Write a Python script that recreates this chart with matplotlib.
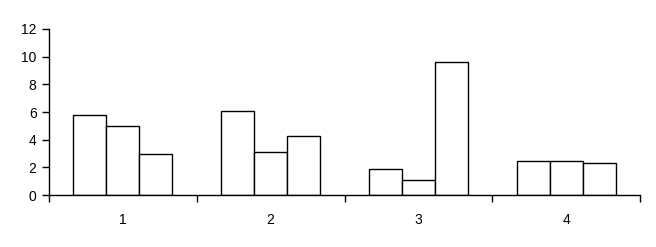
import numpy as np
import matplotlib.pyplot as plt
from matplotlib.ticker import FixedLocator, NullFormatter

plt.rcParams['font.family'] = ['Liberation Sans', 'DejaVu Sans']

groups = ['1', '2', '3', '4']
series_a = [5.8, 6.1, 1.85, 2.43]
series_b = [5.0, 3.1, 1.05, 2.43]
series_c = [3.0, 4.3, 9.65, 2.3]

fig = plt.figure(figsize=(6.56, 2.47), dpi=100)
ax = fig.add_axes([49 / 656, 1 - 195 / 247, (640 - 49) / 656, (195 - 29) / 247])

x = np.arange(1, len(groups) + 1)
w = 0.67 / 3
for i, vals in enumerate([series_a, series_b, series_c]):
    ax.bar(x + (i - 1) * w, vals, width=w, color='white', edgecolor='black', linewidth=1.0)

ax.set_xlim(0.5, len(groups) + 0.5)
ax.set_ylim(0, 12)
ax.set_yticks(range(0, 13, 2))

# tick marks between groups, labels at group centres
ax.xaxis.set_major_locator(FixedLocator(np.arange(0.5, len(groups) + 1, 1.0)))
ax.xaxis.set_major_formatter(NullFormatter())
ax.set_xticks(x, minor=True)
ax.set_xticklabels(groups, minor=True)
ax.tick_params(axis='x', which='minor', length=0, pad=13, labelsize=10)
ax.tick_params(axis='x', which='major', length=5, width=1, direction='out')
ax.tick_params(axis='y', length=5, width=1, direction='out', pad=4, labelsize=10)

ax.spines['top'].set_visible(False)
ax.spines['right'].set_visible(False)
for s in ['left', 'bottom']:
    ax.spines[s].set_linewidth(1.0)
    ax.spines[s].set_color('black')

fig.savefig('out.png', dpi=100)
